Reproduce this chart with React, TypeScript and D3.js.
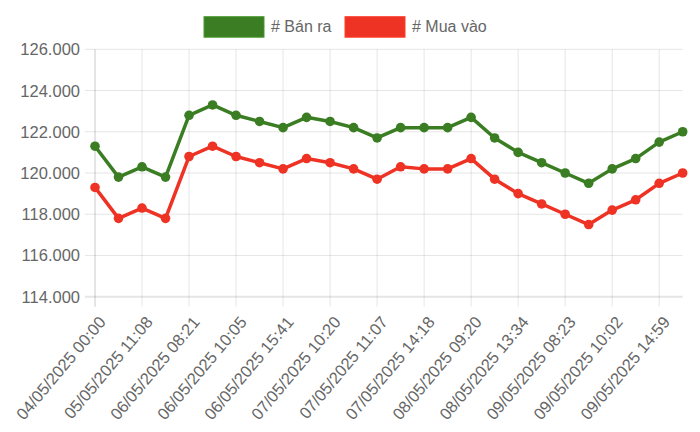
import React from "react";
import * as d3 from "d3";

const tickLabels = [
  "04/05/2025 00:00",
  "05/05/2025 11:08",
  "06/05/2025 08:21",
  "06/05/2025 10:05",
  "06/05/2025 15:41",
  "07/05/2025 10:20",
  "07/05/2025 11:07",
  "07/05/2025 14:18",
  "08/05/2025 09:20",
  "08/05/2025 13:34",
  "09/05/2025 08:23",
  "09/05/2025 10:02",
  "09/05/2025 14:59",
];

const banRa = [
  121.3, 119.8, 120.3, 119.8, 122.8, 123.3, 122.8, 122.5, 122.2, 122.7, 122.5,
  122.2, 121.7, 122.2, 122.2, 122.2, 122.7, 121.7, 121.0, 120.5, 120.0, 119.5,
  120.2, 120.7, 121.5, 122.0,
];

const muaVao = [
  119.3, 117.8, 118.3, 117.8, 120.8, 121.3, 120.8, 120.5, 120.2, 120.7, 120.5,
  120.2, 119.7, 120.3, 120.2, 120.2, 120.7, 119.7, 119.0, 118.5, 118.0, 117.5,
  118.2, 118.7, 119.5, 120.0,
];

const yTicks = [114, 116, 118, 120, 122, 124, 126];

const series = [
  { name: "# Bán ra", values: banRa, color: "#3a7d22" },
  { name: "# Mua vào", values: muaVao, color: "#ee3224" },
];

const W = 700;
const H = 432;
const M = { left: 95, right: 17.3, top: 49.3, bottom: 135.3 };
const FONT = "'Liberation Sans', Arial, Helvetica, sans-serif";
const TEXT = "#666";
const GRID = "rgba(0,0,0,0.1)";
const TICK_FS = 16.5;

export default function App() {
  const idx = d3.range(banRa.length);
  const x = d3
    .scaleLinear()
    .domain([0, banRa.length - 1])
    .range([M.left, W - M.right]);
  const y = d3
    .scaleLinear()
    .domain([114, 126])
    .range([H - M.bottom, M.top]);
  const line = d3
    .line<number>()
    .x((_, i) => x(i))
    .y((d) => y(d));

  const plotBottom = H - M.bottom;
  const fmt = (v: number) => d3.format(".3f")(v).replace(",", ".");

  const legendItems = [
    { boxX: 204, textX: 271 },
    { boxX: 345, textX: 412 },
  ];

  return (
    <div style={{ position: "fixed", left: 0, top: 0 }}>
      <svg width={W} height={H} style={{ display: "block", fontFamily: FONT }}>
        <rect width={W} height={H} fill="#fff" />
        {/* legend */}
        {series.map((s, i) => (
          <g key={s.name}>
            <rect
              x={legendItems[i].boxX}
              y={16.7}
              width={60}
              height={20.5}
              fill={s.color}
              stroke={d3.color(s.color)!.brighter(0.6).formatHex()}
              strokeWidth={1}
            />
            <text x={legendItems[i].textX} y={32.3} fontSize={16} fill={TEXT}>
              {s.name}
            </text>
          </g>
        ))}
        {/* horizontal grid + y ticks */}
        {yTicks.map((t) => (
          <g key={t}>
            <line
              x1={M.left - 10}
              x2={W - M.right}
              y1={y(t)}
              y2={y(t)}
              stroke={GRID}
              strokeWidth={t === 114 ? 2 : 1}
            />
            <text
              x={80}
              y={y(t)}
              fontSize={TICK_FS}
              fill={TEXT}
              textAnchor="end"
              dominantBaseline="central"
            >
              {fmt(t)}
            </text>
          </g>
        ))}
        {/* vertical grid + x ticks */}
        {tickLabels.map((lab, k) => {
          const i = k * 2;
          const px = x(i);
          return (
            <g key={lab}>
              <line
                x1={px}
                x2={px}
                y1={M.top}
                y2={plotBottom + 10}
                stroke={GRID}
                strokeWidth={k === 0 ? 2 : 1}
              />
              <text
                transform={`translate(${px + 7},${plotBottom + 22}) rotate(-50)`}
                fontSize={TICK_FS}
                fill={TEXT}
                textAnchor="end"
                dominantBaseline="central"
              >
                {lab}
              </text>
            </g>
          );
        })}
        {/* series */}
        {series
          .slice()
          .reverse()
          .map((s) => (
            <g key={s.name}>
              <path
                d={line(s.values) ?? ""}
                fill="none"
                stroke={s.color}
                strokeWidth={3.5}
                strokeLinejoin="round"
              />
              {idx.map((i) => (
                <circle
                  key={i}
                  cx={x(i)}
                  cy={y(s.values[i])}
                  r={4.8}
                  fill={s.color}
                />
              ))}
            </g>
          ))}
      </svg>
    </div>
  );
}
